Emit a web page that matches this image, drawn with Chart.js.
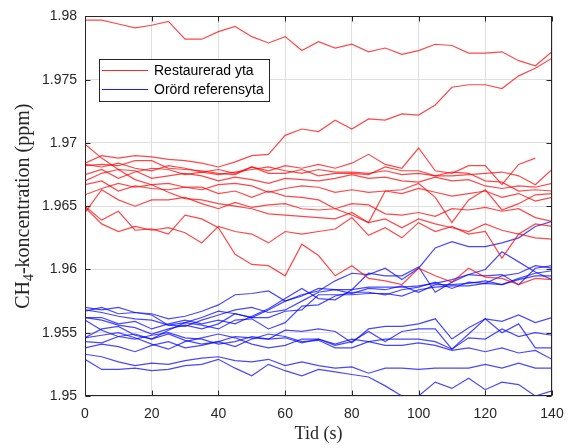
<!DOCTYPE html>
<html>
<head>
<meta charset="utf-8">
<script src="https://cdn.jsdelivr.net/npm/chart.js@4.4.0/dist/chart.umd.min.js"></script>
<style>
  html, body { margin: 0; padding: 0; background: #fff; }
  #wrap { width: 578px; height: 448px; }
</style>
</head>
<body>
<div id="wrap"><canvas id="myChart"></canvas></div>
<script>
// sampling times (s)
const time = [0,5,10,15,20,25,30,35,40,45,50,55,60,65,70,75,80,85,90,95,100,105,110,115,120,125,130,135,140];

// restaurerad yta, one array per chamber measurement (ppm)
const rest01 = [1.9797,1.9797,1.9794,1.9791,1.9793,1.9796,1.9782,1.9782,1.9788,1.9792,1.9784,1.9779,1.9784,1.9773,1.9780,1.9775,1.9778,1.9772,1.9775,1.9770,1.9773,1.9778,1.9777,1.9771,1.9771,1.9772,1.9765,1.9761,1.9772];
const rest02 = [1.9684,1.9690,1.9688,1.9690,1.9689,1.9687,1.9686,1.9684,1.9681,1.9685,1.9690,1.9691,1.9706,1.9711,1.9709,1.9718,1.9711,1.9719,1.9718,1.9723,1.9722,1.9730,1.9744,1.9746,1.9746,1.9743,1.9753,1.9759,1.9767];
const rest03 = [1.9699,1.9688,1.9679,1.9671,1.9667,1.9661,1.9656,1.9655,1.9652,1.9650,1.9648,1.9644,1.9643,1.9642,1.9641,1.9640,1.9645,1.9637,1.9640,1.9633,1.9640,1.9636,1.9633,1.9630,1.9636,1.9631,1.9628,1.9636,1.9634];
const rest04 = [1.9650,1.9639,1.9646,1.9631,1.9632,1.9628,1.9643,1.9640,1.9633,1.9612,1.9604,1.9603,1.9595,1.9620,1.9611,1.9595,1.9603,1.9593,1.9591,1.9588,1.9601,1.9595,1.9590,1.9601,1.9594,1.9593,1.9588,1.9593,1.9592];
const rest05 = [1.9649,1.9636,1.9630,1.9634,1.9631,1.9633,1.9629,1.9621,1.9634,1.9630,1.9628,1.9621,1.9630,1.9628,1.9630,1.9632,1.9641,1.9627,1.9633,1.9625,1.9637,1.9630,1.9634,1.9628,1.9630,1.9609,1.9628,1.9625,1.9624];
const rest06 = [1.9645,1.9663,1.9655,1.9650,1.9655,1.9655,1.9657,1.9652,1.9648,1.9653,1.9649,1.9651,1.9652,1.9648,1.9647,1.9648,1.9652,1.9651,1.9644,1.9643,1.9645,1.9642,1.9648,1.9647,1.9649,1.9646,1.9648,1.9641,1.9638];
const rest07 = [1.9667,1.9670,1.9662,1.9666,1.9664,1.9663,1.9665,1.9665,1.9660,1.9662,1.9657,1.9662,1.9658,1.9657,1.9655,1.9648,1.9643,1.9637,1.9662,1.9663,1.9668,1.9657,1.9637,1.9655,1.9663,1.9647,1.9652,1.9659,1.9660];
const rest08 = [1.9683,1.9681,1.9684,1.9680,1.9678,1.9682,1.9680,1.9677,1.9679,1.9676,1.9681,1.9678,1.9682,1.9680,1.9683,1.9680,1.9684,1.9691,1.9683,1.9680,1.9696,1.9678,1.9676,1.9682,1.9682,1.9667,1.9683,1.9688,null];
const rest09 = [1.9682,1.9683,1.9682,1.9686,1.9686,1.9680,1.9679,1.9678,1.9676,1.9675,1.9681,1.9676,1.9676,1.9679,1.9674,1.9676,1.9676,1.9675,1.9681,1.9678,1.9678,1.9674,1.9674,1.9675,1.9676,1.9677,1.9674,1.9667,1.9679];
const rest10 = [1.9670,1.9676,1.9679,1.9678,1.9672,1.9674,1.9676,1.9674,1.9670,1.9673,1.9671,1.9668,1.9672,1.9671,1.9670,1.9672,1.9675,1.9672,1.9673,1.9670,1.9669,1.9673,1.9670,1.9671,1.9666,1.9664,1.9666,1.9665,1.9668];
const rest11 = [1.9659,1.9664,1.9668,1.9665,1.9667,1.9668,1.9665,1.9663,1.9667,1.9668,1.9666,1.9661,1.9664,1.9666,1.9665,1.9661,1.9663,1.9661,1.9662,1.9660,1.9664,1.9661,1.9658,1.9660,1.9662,1.9657,1.9660,1.9654,1.9657];
const rest12 = [1.9675,1.9679,1.9672,1.9677,1.9680,1.9679,1.9675,1.9677,1.9675,1.9677,1.9679,1.9681,1.9678,1.9676,1.9679,1.9677,1.9677,1.9676,1.9678,1.9675,1.9676,1.9674,1.9677,1.9676,1.9670,1.9669,1.9662,1.9663,1.9662];

// orörd referensyta
const ref01 = [1.9562,1.9560,1.9556,1.9554,1.9549,1.9553,1.9556,1.9553,1.9557,1.9565,1.9562,1.9568,1.9575,1.9580,1.9583,1.9591,1.9597,1.9596,1.9601,1.9592,1.9601,1.9617,1.9622,1.9618,1.9618,1.9621,1.9625,1.9634,1.9638];
const ref02 = [1.9570,1.9568,1.9570,1.9566,1.9565,1.9561,1.9563,1.9567,1.9572,1.9580,1.9581,1.9583,1.9575,1.9579,1.9585,1.9584,1.9584,1.9586,1.9586,1.9586,1.9587,1.9589,1.9592,1.9596,1.9600,1.9614,1.9606,1.9598,1.9592];
const ref03 = [1.9568,1.9566,1.9563,1.9561,1.9560,1.9556,1.9555,1.9560,1.9564,1.9568,1.9570,1.9566,1.9568,1.9575,1.9582,1.9584,1.9581,1.9585,1.9584,1.9587,1.9582,1.9588,1.9588,1.9589,1.9591,1.9588,1.9593,1.9597,1.9599];
const ref04 = [1.9562,1.9562,1.9557,1.9559,1.9553,1.9557,1.9560,1.9557,1.9560,1.9557,1.9563,1.9569,1.9577,1.9585,1.9577,1.9576,1.9584,1.9597,1.9595,1.9595,1.9602,1.9582,1.9590,1.9596,1.9595,1.9596,1.9588,1.9601,1.9603];
const ref05 = [1.9567,1.9570,1.9565,1.9566,1.9564,1.9556,1.9558,1.9562,1.9567,1.9565,1.9562,1.9562,1.9567,1.9568,1.9580,1.9580,1.9580,1.9581,1.9581,1.9579,1.9584,1.9586,1.9587,1.9587,1.9589,1.9588,1.9592,1.9595,1.9595];
const ref06 = [1.9546,1.9553,1.9555,1.9548,1.9545,1.9552,1.9558,1.9556,1.9553,1.9560,1.9561,1.9553,1.9558,1.9571,1.9572,1.9579,1.9582,1.9582,1.9580,1.9584,1.9586,1.9590,1.9585,1.9590,1.9589,1.9595,1.9597,1.9603,1.9601];
const ref07 = [1.9543,1.9542,1.9547,1.9549,1.9545,1.9549,1.9544,1.9541,1.9543,1.9547,1.9546,1.9545,1.9552,1.9551,1.9553,1.9551,1.9542,1.9553,1.9555,1.9555,1.9557,1.9561,1.9545,1.9554,1.9561,1.9559,1.9564,1.9558,1.9562];
const ref08 = [1.9560,1.9552,1.9547,1.9545,1.9548,1.9550,1.9546,1.9545,1.9541,1.9543,1.9547,1.9545,1.9546,1.9542,1.9545,1.9541,1.9545,1.9543,1.9545,1.9545,1.9545,1.9543,1.9537,1.9546,1.9545,1.9553,1.9547,1.9550,1.9548];
const ref09 = [1.9546,1.9548,1.9550,1.9546,1.9541,1.9537,1.9543,1.9546,1.9549,1.9546,1.9541,1.9538,1.9540,1.9545,1.9545,1.9540,1.9543,1.9551,1.9543,1.9551,1.9553,1.9553,1.9537,1.9549,1.9561,1.9550,1.9557,1.9538,1.9538];
const ref10 = [1.9538,1.9541,1.9539,1.9535,1.9540,1.9543,1.9538,1.9540,1.9543,1.9539,1.9545,1.9549,1.9547,1.9543,1.9544,1.9538,1.9538,1.9543,1.9540,1.9540,1.9542,1.9540,1.9536,1.9538,1.9535,1.9538,1.9534,1.9536,1.9529];
const ref11 = [1.9533,1.9531,1.9527,1.9524,1.9526,1.9525,1.9528,1.9530,1.9531,1.9528,1.9527,1.9529,1.9524,1.9527,1.9524,1.9522,1.9523,1.9518,1.9522,1.9522,1.9521,1.9522,1.9522,1.9522,1.9525,1.9522,1.9526,1.9522,1.9522];
const ref12 = [1.9529,1.9521,1.9521,1.9522,1.9520,1.9521,1.9524,1.9525,1.9529,1.9522,1.9516,1.9525,1.9520,1.9516,1.9521,1.9519,1.9517,1.9515,1.9508,1.9500,1.9500,1.9511,1.9506,1.9514,1.9505,1.9511,1.9509,1.9500,1.9504];

const xTicks = [0, 20, 40, 60, 80, 100, 120, 140];
const yTicks = [1.95, 1.955, 1.96, 1.965, 1.97, 1.975, 1.98];

const restLabel = 'Restaurerad yta';
const refLabel = 'Orörd referensyta';
const xTitle = 'Tid (s)';

const RED = 'rgba(255,0,0,0.72)';
const BLUE = 'rgba(0,0,255,0.72)';
const AXIS = '#262626';

function series(vals, color, label) {
  return {
    label: label,
    data: vals.map((v, i) => ({ x: time[i], y: v })),
    borderColor: color,
    borderWidth: 1.2,
    pointRadius: 0,
    tension: 0,
    fill: false
  };
}

const restAll = [rest01, rest02, rest03, rest04, rest05, rest06, rest07, rest08, rest09, rest10, rest11, rest12];
const refAll = [ref01, ref02, ref03, ref04, ref05, ref06, ref07, ref08, ref09, ref10, ref11, ref12];

const datasets = restAll.map(v => series(v, RED, restLabel))
  .concat(refAll.map(v => series(v, BLUE, refLabel)));

// box, inward ticks, axis titles and legend, matlab style
const frame = {
  id: 'frame',
  afterDraw(chart) {
    const { ctx, chartArea: a, scales: { x, y } } = chart;
    const L = Math.round(a.left) + 0.5, R = Math.round(a.right) - 0.5;
    const T = Math.round(a.top) + 0.5, B = Math.round(a.bottom) - 0.5;
    ctx.save();
    ctx.strokeStyle = AXIS;
    ctx.lineWidth = 1;
    ctx.strokeRect(L, T, R - L, B - T);
    ctx.beginPath();
    xTicks.forEach(v => {
      const px = Math.round(x.getPixelForValue(v)) + 0.5;
      ctx.moveTo(px, B); ctx.lineTo(px, B - 5);
      ctx.moveTo(px, T); ctx.lineTo(px, T + 5);
    });
    yTicks.forEach(v => {
      const py = Math.round(y.getPixelForValue(v)) + 0.5;
      ctx.moveTo(L, py); ctx.lineTo(L + 5, py);
      ctx.moveTo(R, py); ctx.lineTo(R - 5, py);
    });
    ctx.stroke();

    // axis titles
    ctx.fillStyle = AXIS;
    ctx.font = '18px "Liberation Serif"';
    ctx.textAlign = 'center';
    ctx.textBaseline = 'middle';
    ctx.fillText(xTitle, (a.left + a.right) / 2, 434);

    ctx.save();
    ctx.translate(22, (a.top + a.bottom) / 2);
    ctx.rotate(-Math.PI / 2);
    ctx.textAlign = 'left';
    ctx.textBaseline = 'alphabetic';
    const big = '20px "Liberation Serif"', small = '14px "Liberation Serif"';
    ctx.font = big;
    const w1 = ctx.measureText('CH').width;
    const w3 = ctx.measureText('-koncentration (ppm)').width;
    ctx.font = small;
    const w2 = ctx.measureText('4').width;
    let sx = -(w1 + w2 + w3) / 2;
    ctx.font = big;
    ctx.fillText('CH', sx, 7);
    ctx.font = small;
    ctx.fillText('4', sx + w1, 11);
    ctx.font = big;
    ctx.fillText('-koncentration (ppm)', sx + w1 + w2, 7);
    ctx.restore();

    // legend
    ctx.fillStyle = '#fff';
    ctx.fillRect(99.5, 59.5, 170, 42);
    ctx.strokeStyle = AXIS;
    ctx.lineWidth = 1;
    ctx.strokeRect(99.5, 59.5, 170, 42);
    [['rgb(255,40,40)', restLabel, 70.5], ['rgb(30,30,255)', refLabel, 89.5]].forEach(([c, t, yy]) => {
      ctx.strokeStyle = c;
      ctx.lineWidth = 1.2;
      ctx.beginPath();
      ctx.moveTo(102, yy); ctx.lineTo(148, yy);
      ctx.stroke();
      ctx.fillStyle = '#000';
      ctx.font = '14px "Liberation Sans"';
      ctx.textAlign = 'left';
      ctx.textBaseline = 'middle';
      ctx.fillText(t, 154, yy + 0.5);
    });
    ctx.restore();
  }
};

const config = {
  type: 'line',
  data: { datasets },
  options: {
    responsive: true,
    maintainAspectRatio: false,
    animation: false,
    layout: { padding: { top: 16, right: 26, bottom: 0, left: 0 } },
    plugins: { legend: { display: false }, tooltip: { enabled: false } },
    scales: {
      x: {
        type: 'linear',
        min: 0,
        max: 140,
        afterFit: s => { s.height = 52; },
        afterBuildTicks: s => { s.ticks = xTicks.map(v => ({ value: v })); },
        ticks: { color: AXIS, font: { family: 'Liberation Sans', size: 14 }, padding: 10, maxRotation: 0 },
        grid: { color: '#dfdfdf', drawTicks: false },
        border: { display: false }
      },
      y: {
        min: 1.95,
        max: 1.98,
        afterFit: s => { s.width = 85; },
        afterBuildTicks: s => { s.ticks = yTicks.map(v => ({ value: v })); },
        ticks: {
          color: AXIS,
          font: { family: 'Liberation Sans', size: 14 },
          padding: 8,
          callback: v => String(+v.toFixed(3))
        },
        grid: { color: '#dfdfdf', drawTicks: false },
        border: { display: false }
      }
    }
  },
  plugins: [frame]
};

const myChart = new Chart(document.getElementById('myChart'), config);
</script>
</body>
</html>
